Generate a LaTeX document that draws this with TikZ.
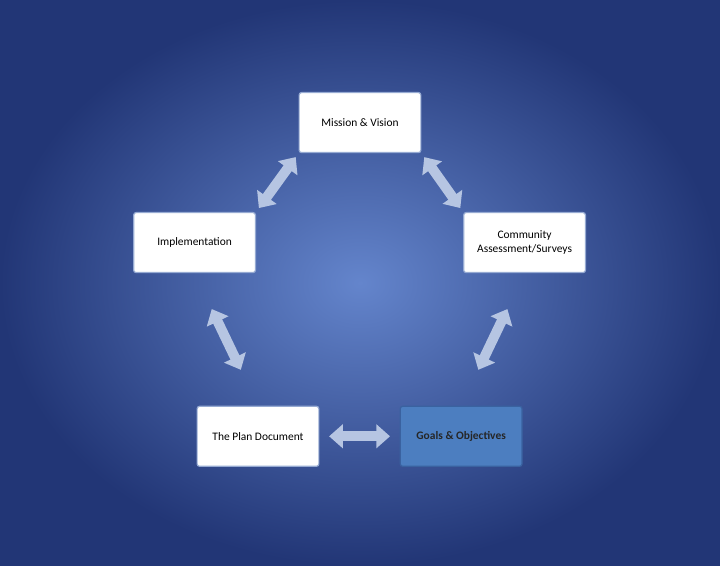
\documentclass[tikz,border=0pt]{standalone}
\usepackage{fontspec}
\setmainfont{Carlito}
\usetikzlibrary{arrows.meta, positioning, calc}
\definecolor{bgdark}{RGB}{34,54,118}
\definecolor{bglight}{RGB}{100,133,204}
\definecolor{arrfill}{RGB}{182,197,226}
\definecolor{boxline}{RGB}{150,170,210}
\definecolor{goalfill}{RGB}{76,126,192}
\definecolor{goalline}{RGB}{58,98,160}
\begin{document}
\begin{tikzpicture}[
    x=0.025cm, y=-0.025cm,
    box/.style={draw=boxline, line width=1pt, fill=white, rounded corners=2pt, minimum width=3.55cm, minimum height=1.75cm, font=\fontsize{9.5}{11}\selectfont, align=center},
    link/.style={draw=arrfill, line width=0.29cm, {Triangle[length=0.4cm,width=0.68cm]}-{Triangle[length=0.4cm,width=0.68cm]}},
]
\fill[inner color=bglight, outer color=bgdark] (-60,-60) rectangle (780,600);
\useasboundingbox (0,0) rectangle (720,540);
\node[box] (mission) at (360,83) {Mission \& Vision};
\node[box] (impl) at (167,223) {Implementation};
\node[box] (comm) at (552,223) {Community\\Assessment/Surveys};
\node[box] (plan) at (241,449) {The Plan Document};
\node[box, fill=goalfill, draw=goalline, font=\fontsize{9.5}{11}\selectfont\bfseries, text=black!85] (goals) at (478,449) {Goals \& Objectives};
% double arrows between stages
\foreach \a/\b/\s in {mission.south west/impl.north east/4pt, mission.south east/comm.north west/4pt, impl.south/plan.north/33pt, comm.south/goals.north/33pt, plan.east/goals.west/8pt}{
  \draw[link, shorten <=\s, shorten >=\s] (\a) -- (\b);
}
\end{tikzpicture}
\end{document}
